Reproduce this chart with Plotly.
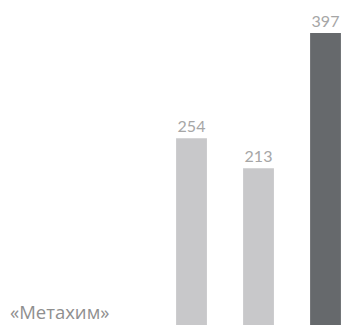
import plotly.graph_objects as go

categories = ["2019", "2020", "2021"]
values = [254, 213, 397]
colors = ["#c8c8ca", "#c8c8ca", "#66696c"]
series_label = "«Метахим»"

fig = go.Figure(go.Bar(
    x=categories, y=values,
    marker=dict(color=colors, line=dict(width=0)),
    text=[str(v) for v in values],
    textposition="outside",
    textfont=dict(family="Lato", size=16, color="#a6a6a6"),
    cliponaxis=False,
    width=0.46,
))
fig.add_annotation(text=series_label, xref="paper", yref="paper", x=0.0, y=0.0,
                   xanchor="left", yanchor="bottom", showarrow=False, yshift=-1,
                   font=dict(family="Open Sans", size=18.5, color="#8f8f8f"))
fig.update_layout(
    width=350, height=325, margin=dict(l=0, r=0, t=0, b=8),
    paper_bgcolor="white", plot_bgcolor="white", showlegend=False,
    xaxis=dict(type="category", range=[-2.739, 2.485], visible=False),
    yaxis=dict(range=[0, 431.0], visible=False),
)
fig.write_html("out.html")
